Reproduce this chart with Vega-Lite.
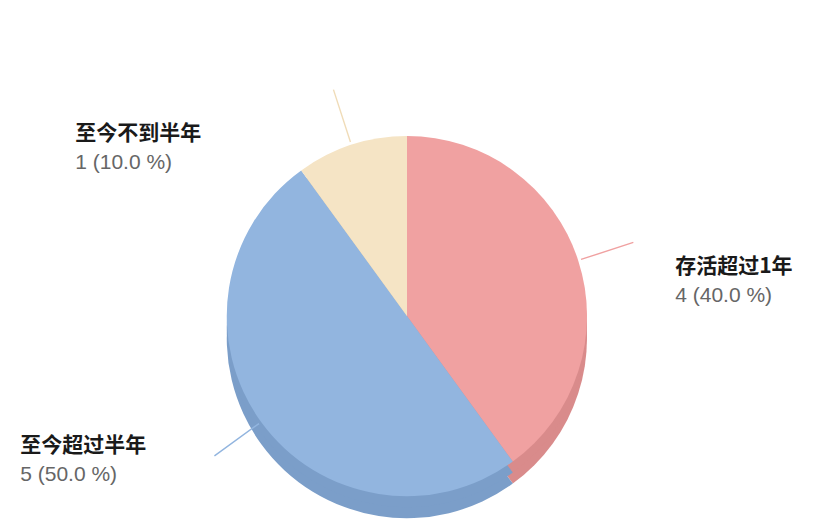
{
  "$schema": "https://vega.github.io/schema/vega-lite/v6.json",
  "width": 814,
  "height": 529,
  "autosize": {"type": "fit", "contains": "padding"},
  "padding": {"top": 103, "bottom": 0, "left": 0, "right": 0},
  "background": "white",
  "data": {
    "values": [
      {"idx": 1, "name": "存活超过1年", "count": 4, "detail": "4 (40.0 %)"},
      {"idx": 2, "name": "至今超过半年", "count": 5, "detail": "5 (50.0 %)"},
      {"idx": 3, "name": "至今不到半年", "count": 1, "detail": "1 (10.0 %)"}
    ]
  },
  "encoding": {
    "theta": {"field": "count", "type": "quantitative", "stack": true},
    "order": {"field": "idx", "type": "quantitative"}
  },
  "layer": [
    {
      "mark": {"type": "arc", "radius": 180, "yOffset": 22},
      "encoding": {
        "color": {
          "field": "name",
          "type": "nominal",
          "legend": null,
          "scale": {
            "domain": ["存活超过1年", "至今超过半年", "至今不到半年"],
            "range": ["#d98b8b", "#7b9ec9", "#dcc9a8"]
          }
        }
      }
    },
    {
      "mark": {"type": "arc", "radius": 180, "yOffset": 11},
      "encoding": {
        "color": {
          "field": "name",
          "type": "nominal",
          "legend": null,
          "scale": {
            "domain": ["存活超过1年", "至今超过半年", "至今不到半年"],
            "range": ["#d98b8b", "#7b9ec9", "#dcc9a8"]
          }
        }
      }
    },
    {
      "mark": {"type": "arc", "radius": 180},
      "encoding": {
        "color": {
          "field": "name",
          "type": "nominal",
          "legend": null,
          "scale": {
            "domain": ["存活超过1年", "至今超过半年", "至今不到半年"],
            "range": ["#f0a1a1", "#92b5df", "#f5e4c5"]
          }
        }
      }
    },
    {
      "mark": {"type": "arc", "radius": 183, "radius2": 238, "padAngle": 3.3, "filled": false, "strokeWidth": 1.4},
      "encoding": {
        "color": {
          "field": "name",
          "type": "nominal",
          "legend": null,
          "scale": {
            "domain": ["存活超过1年", "至今超过半年", "至今不到半年"],
            "range": ["#f0a1a1", "#92b5df", "#f0dcb8"]
          }
        }
      }
    },
    {
      "mark": {
        "type": "text",
        "radius": 200,
        "align": "left",
        "baseline": "middle",
        "font": "Noto Sans CJK SC",
        "fontSize": 21,
        "fontWeight": "bold",
        "fill": "#1a1a1a",
        "dx": {"expr": "datum.idx === 1 ? 78 : datum.idx === 2 ? -225 : -270"},
        "dy": {"expr": "datum.idx === 1 ? 13 : datum.idx === 2 ? 12 : 8"}
      },
      "encoding": {"text": {"field": "name"}}
    },
    {
      "mark": {
        "type": "text",
        "radius": 200,
        "align": "left",
        "baseline": "middle",
        "font": "Liberation Sans",
        "fontSize": 21,
        "fill": "#666666",
        "dx": {"expr": "datum.idx === 1 ? 78 : datum.idx === 2 ? -225 : -270"},
        "dy": {"expr": "datum.idx === 1 ? 42 : datum.idx === 2 ? 41 : 37"}
      },
      "encoding": {"text": {"field": "detail"}}
    }
  ],
  "resolve": {"scale": {"color": "independent"}},
  "config": {"view": {"stroke": null}}
}
